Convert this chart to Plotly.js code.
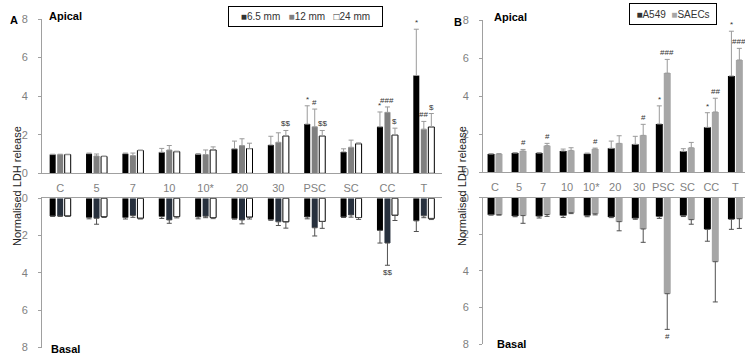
<!DOCTYPE html>
<html><head><meta charset="utf-8">
<script src="https://cdn.plot.ly/plotly-3.0.1.min.js"></script>
<style>html,body{margin:0;padding:0;background:#fff}</style>
</head><body><div id="chart" style="width:745px;height:354px"></div>
<script>
const cats = ['C','5','7','10','10*','20','30','PSC','SC','CC','T'];
const yTicks = [0,2,4,6,8];

// Panel A – apical
const a65_ap = [0.97,1.02,1.02,1.09,0.99,1.27,1.47,2.55,1.11,2.41,5.07];
const a65_ap_err = [0.02,0.03,0.03,0.2,0.03,0.4,0.45,0.95,0.16,0.77,2.4];
const a12_ap = [0.97,0.9,0.92,1.21,0.97,1.44,1.61,2.41,1.35,3.16,2.29];
const a12_ap_err = [0.02,0.1,0.13,0.23,0.24,0.35,0.49,0.92,0.37,0.28,0.4];
const a24_ap = [0.97,0.87,1.18,1.12,1.21,1.28,1.93,1.93,1.53,1.98,2.4];
const a24_ap_err = [0.02,0.03,0.03,0.03,0.16,0.28,0.29,0.29,0.05,0.36,0.7];
// Panel A – basal
const a65_bs = [0.95,1.03,1.03,0.98,1.0,1.08,1.14,1.0,1.0,1.72,1.21];
const a65_bs_err = [0.02,0.07,0.08,0.1,0.1,0.04,0.04,0.1,0.03,0.68,0.57];
const a12_bs = [0.95,1.07,0.92,1.16,0.96,1.16,1.26,1.58,0.89,2.4,0.94];
const a12_bs_err = [0.02,0.32,0.1,0.18,0.08,0.21,0.2,0.44,0.12,1.19,0.1];
const a24_bs = [0.95,0.98,1.07,0.98,1.03,1.01,1.26,1.24,1.03,0.91,1.08];
const a24_bs_err = [0.02,0.05,0.04,0.07,0.06,0.1,0.34,0.37,0.1,0.28,0.06];
// Panel B – apical
const bA549_ap = [0.96,1.01,1.01,1.12,0.98,1.26,1.47,2.54,1.1,2.36,5.06];
const bA549_ap_err = [0.02,0.03,0.03,0.1,0.03,0.38,0.42,0.95,0.14,0.77,2.35];
const bSAEC_ap = [0.96,1.12,1.4,1.15,1.22,1.52,1.94,5.21,1.29,3.17,5.9];
const bSAEC_ap_err = [0.02,0.08,0.12,0.14,0.05,0.4,0.58,0.72,0.28,0.72,0.61];
// Panel B – basal
const bA549_bs = [0.93,1.0,1.01,0.98,0.98,1.05,1.12,1.03,0.98,1.73,1.18];
const bA549_bs_err = [0.02,0.04,0.1,0.1,0.06,0.04,0.06,0.1,0.05,0.65,0.55];
const bSAEC_bs = [0.93,0.98,0.92,0.82,0.88,1.31,1.71,5.25,1.2,3.5,1.15];
const bSAEC_bs_err = [0.02,0.42,0.1,0.05,0.06,0.5,0.73,1.95,0.25,2.2,0.53];

// significance markers: [category index, series index, label]
const sigA_ap = [[6,2,'$$'],[7,0,'*'],[7,1,'#'],[7,2,'$$'],[9,0,'*'],[9,1,'###'],[9,2,'$'],[10,0,'*'],[10,1,'##'],[10,2,'$']];
const sigA_bs = [[9,1,'$$']];
const sigB_ap = [[1,1,'#'],[2,1,'#'],[4,1,'#'],[6,1,'#'],[7,0,'*'],[7,1,'###'],[9,0,'*'],[9,1,'##'],[10,0,'*'],[10,1,'###']];
const sigB_bs = [[7,1,'#']];

const W = 745, H = 354;
const py = p => 1 - p / H;
const px = p => p / W;

// bar geometry (category units)
const A_w = 0.165, A_off = [-0.289, -0.0825, 0.124];
const B_w = 0.29, B_off = [-0.31, 0.02];

function bar(y, err, xa, ya, color, off, w, errColor, line) {
  return {type:'bar', x:cats, y:y, xaxis:xa, yaxis:ya, offset:off, width:w,
    marker:{color:color, line:{color: line || color, width: line ? 1 : 0}},
    error_y:{type:'data', array:err, arrayminus:err.map(()=>0), symmetric:false,
      color:errColor, thickness:1, width:2.5},
    showlegend:false, hoverinfo:'x+y'};
}

const errUp = '#9a9a9a', errDn = '#505050';
const data = [
  bar(a65_ap, a65_ap_err, 'x', 'y', '#000000', A_off[0], A_w, errUp),
  bar(a12_ap, a12_ap_err, 'x', 'y', '#7f7f7f', A_off[1], A_w, errUp),
  bar(a24_ap, a24_ap_err, 'x', 'y', '#ffffff', A_off[2], A_w, errUp, '#000000'),
  bar(a65_bs, a65_bs_err, 'x2', 'y2', '#000000', A_off[0], A_w, errDn),
  bar(a12_bs, a12_bs_err, 'x2', 'y2', '#27303d', A_off[1], A_w, errDn),
  bar(a24_bs, a24_bs_err, 'x2', 'y2', '#ffffff', A_off[2], A_w, errDn, '#000000'),
  bar(bA549_ap, bA549_ap_err, 'x3', 'y3', '#000000', B_off[0], B_w, errUp),
  bar(bSAEC_ap, bSAEC_ap_err, 'x3', 'y3', '#a6a6a6', B_off[1], B_w, errUp),
  bar(bA549_bs, bA549_bs_err, 'x4', 'y4', '#000000', B_off[0], B_w, errDn),
  bar(bSAEC_bs, bSAEC_bs_err, 'x4', 'y4', '#a6a6a6', B_off[1], B_w, errDn)
];

const annotations = [];
function addSig(list, vals, errs, offs, w, xa, ya, up) {
  list.forEach(([ci, si, t]) => {
    annotations.push({xref:xa, yref:ya, x: ci + offs[si] + w/2, y: vals[si][ci] + errs[si][ci],
      text:t, showarrow:false, xanchor:'center', yanchor: up ? 'bottom' : 'top', yshift: up ? 0 : -1,
      font:{family:'Liberation Sans, Arial', size:8, color:'#333'}});
  });
}
addSig(sigA_ap, [a65_ap,a12_ap,a24_ap], [a65_ap_err,a12_ap_err,a24_ap_err], A_off, A_w, 'x', 'y', true);
addSig(sigA_bs, [a65_bs,a12_bs,a24_bs], [a65_bs_err,a12_bs_err,a24_bs_err], A_off, A_w, 'x2', 'y2', false);
addSig(sigB_ap, [bA549_ap,bSAEC_ap], [bA549_ap_err,bSAEC_ap_err], B_off, B_w, 'x3', 'y3', true);
addSig(sigB_bs, [bA549_bs,bSAEC_bs], [bA549_bs_err,bSAEC_bs_err], B_off, B_w, 'x4', 'y4', false);

const txt = (x, y, t, size, opts) => Object.assign({xref:'paper', yref:'paper', x:px(x), y:py(y), text:t,
  xanchor:'center', yanchor:'middle',
  showarrow:false, font:{family:'Liberation Sans, Arial', size:size, color:'#000'}}, opts || {});
annotations.push(
  txt(14, 20, '<b>A</b>', 11),
  txt(458, 22, '<b>B</b>', 11),
  txt(65, 16, '<b>Apical</b>', 11),
  txt(65, 349, '<b>Basal</b>', 11),
  txt(510, 17, '<b>Apical</b>', 11),
  txt(511, 344, '<b>Basal</b>', 11),
  txt(17, 186, 'Normalised LDH release', 11, {textangle:-90, font:{family:'Liberation Sans, Arial', size:11, color:'#222'}}),
  txt(462, 186, 'Normalised LDH release', 11, {textangle:-90, font:{family:'Liberation Sans, Arial', size:11, color:'#222'}}),
  txt(305.5, 16.5, '■6.5 mm\u00a0\u00a0\u00a0<span style="color:#7f7f7f">■</span>12 mm\u00a0\u00a0\u00a0□24 mm', 10,
    {bordercolor:'#000', borderwidth:1, borderpad:4, width:145, height:11, font:{family:'Liberation Sans, Arial', size:10, color:'#333'}}),
  txt(673, 14, '■A549\u00a0\u00a0<span style="color:#a6a6a6">■</span>SAECs', 10,
    {bordercolor:'#000', borderwidth:1, borderpad:4, width:78, height:12, font:{family:'Liberation Sans, Arial', size:10, color:'#333'}})
);

const axCol = '#a0a0a0';
const tickFont = {family:'Liberation Sans, Arial', size:11, color:'#7f7f7f'};
const yax = (dom, range, anchor) => ({domain:dom, range:range, anchor:anchor, tickvals:yTicks, showline:true,
  linecolor:axCol, ticks:'outside', ticklen:3, tickcolor:axCol, showgrid:false, zeroline:false,
  tickfont:tickFont, ticklabelstandoff:8, ticklabeloverflow:'allow', fixedrange:true});
const xax = (dom, range, anchor, labels, side) => ({domain:dom, range:range, anchor:anchor, type:'category',
  showline:true, linecolor:axCol, ticks:'', showgrid:false, zeroline:false, showticklabels:labels,
  side:side, tickfont:tickFont, ticklabelstandoff:4, ticklabeloverflow:'allow', fixedrange:true});

const layout = {
  width:W, height:H, margin:{l:0,r:0,t:0,b:0}, paper_bgcolor:'#fff', plot_bgcolor:'rgba(0,0,0,0)',
  showlegend:false, barmode:'group',
  xaxis: xax([px(42), px(442)], [-0.5, 10.5], 'y', true, 'bottom'),
  yaxis: yax([py(173.3), py(19)], [0, 8], 'x'),
  xaxis2: xax([px(42), px(442)], [-0.5, 10.5], 'y2', false, 'top'),
  yaxis2: yax([py(347.5), py(198.3)], [8, 0], 'x2'),
  xaxis3: xax([px(483), 1], [-0.5, 10.4], 'y3', true, 'bottom'),
  yaxis3: yax([py(172.3), py(20)], [0, 8], 'x3'),
  xaxis4: xax([px(483), 1], [-0.5, 10.4], 'y4', false, 'top'),
  yaxis4: yax([py(344), py(197.7)], [8, 0], 'x4'),
  annotations: annotations
};
Plotly.newPlot('chart', data, layout, {displayModeBar:false, staticPlot:true});
</script></body></html>
